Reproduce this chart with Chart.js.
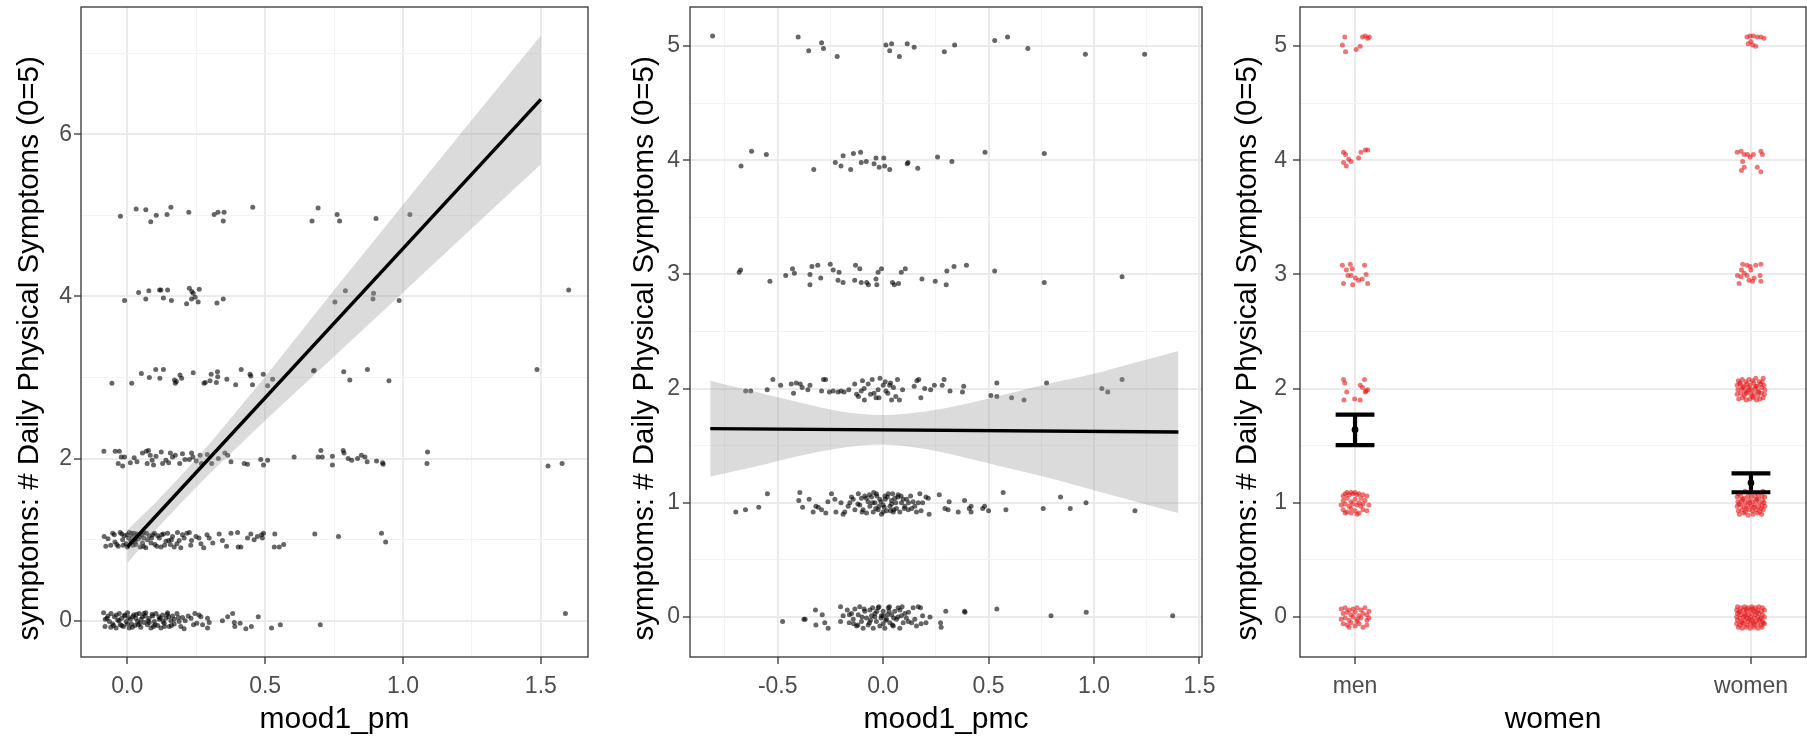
<!DOCTYPE html>
<html>
<head>
<meta charset="utf-8">
<script src="https://cdn.jsdelivr.net/npm/chart.js@4.4.0/dist/chart.umd.min.js"></script>
<style>
  html, body { margin: 0; padding: 0; background: #fff; overflow: hidden; }
  body { width: 1807px; height: 739px; position: relative; }
  canvas { position: absolute; top: 0; }
  #c1 { left: 0; }
  #c2 { left: 600px; }
  #c3 { left: 1210px; }
</style>
</head>
<body>
<canvas id="c1" width="600" height="739"></canvas>
<canvas id="c2" width="630" height="739"></canvas>
<canvas id="c3" width="600" height="739"></canvas>
<script>
// ---------- panel 1: symptoms vs mood1_pm (jittered) ----------
const p1Lvl5 = [[-0.025,4.99],[0.032,5.08],[0.067,5.07],[0.085,4.92],[0.105,5.00],[0.144,5.01],[0.158,5.10],[0.223,5.04],[0.315,5.01],[0.329,5.04],[0.351,5.04],[0.348,4.93],[0.455,5.10],[0.670,4.93],[0.692,5.09],[0.761,5.01],[0.770,4.93],[0.902,4.96],[1.025,5.01]];
const p1Lvl4 = [[-0.010,3.95],[0.041,4.05],[0.067,3.97],[0.078,4.07],[0.117,4.08],[0.122,4.08],[0.131,3.98],[0.146,4.08],[0.160,3.95],[0.215,3.91],[0.225,4.10],[0.234,4.06],[0.239,4.04],[0.233,3.97],[0.246,3.99],[0.257,3.93],[0.261,4.09],[0.325,3.92],[0.348,3.97],[0.753,3.93],[0.791,4.07],[0.893,4.04],[0.891,3.97],[0.986,3.95],[1.601,4.08]];
const p1Lvl3 = [[-0.056,2.93],[0.016,2.93],[0.051,3.05],[0.080,3.00],[0.103,3.10],[0.118,2.99],[0.131,3.10],[0.171,2.97],[0.174,2.93],[0.178,2.95],[0.191,3.03],[0.197,2.99],[0.239,3.06],[0.278,2.93],[0.283,2.94],[0.300,2.96],[0.304,3.04],[0.323,2.94],[0.327,3.07],[0.328,3.01],[0.361,2.98],[0.393,2.91],[0.413,3.10],[0.445,3.04],[0.448,3.02],[0.454,2.91],[0.493,3.04],[0.509,2.90],[0.527,2.98],[0.675,3.08],[0.678,3.09],[0.785,3.07],[0.807,2.97],[0.871,3.10],[0.949,2.96],[1.486,3.10]];
const p1Lvl2 = [[-0.085,2.09],[-0.044,2.09],[-0.029,2.09],[-0.033,1.94],[-0.022,2.02],[-0.017,1.91],[-0.010,2.02],[0.011,1.95],[0.025,2.01],[0.055,2.07],[0.069,2.09],[0.072,1.94],[0.077,2.10],[0.083,2.04],[0.090,1.98],[0.104,2.03],[0.123,2.08],[0.128,1.94],[0.140,1.98],[0.156,2.07],[0.164,2.02],[0.174,2.04],[0.190,1.94],[0.209,1.99],[0.225,1.99],[0.233,2.07],[0.238,2.02],[0.264,2.04],[0.269,1.94],[0.306,1.94],[0.330,2.00],[0.354,2.07],[0.364,2.04],[0.376,1.96],[0.424,1.94],[0.436,1.93],[0.484,1.99],[0.494,1.92],[0.509,1.98],[0.605,2.02],[0.692,2.02],[0.702,2.10],[0.707,2.02],[0.744,2.03],[0.744,1.92],[0.783,2.10],[0.786,2.07],[0.801,2.00],[0.814,1.98],[0.835,2.00],[0.849,2.04],[0.862,2.02],[0.870,1.96],[0.904,1.97],[0.926,1.95],[0.928,1.93],[1.089,2.08],[1.087,1.94],[1.526,1.91],[1.577,1.94],[0.035,1.96],[0.095,1.92],[0.150,1.95],[0.200,2.06],[0.250,1.97],[0.290,2.05]];
const p1Lvl1 = [[-0.084,1.04],[-0.078,0.92],[-0.053,1.08],[-0.047,1.06],[-0.038,0.94],[-0.033,0.92],[-0.026,1.09],[-0.017,1.00],[-0.011,1.05],[-0.005,0.95],[0.001,0.91],[0.007,1.09],[0.013,0.98],[0.019,1.04],[0.025,1.08],[0.031,0.94],[0.040,1.01],[0.047,0.91],[0.053,1.06],[0.061,1.09],[0.067,0.90],[0.073,1.00],[0.086,0.96],[0.092,1.06],[0.098,1.08],[0.107,0.92],[0.116,1.02],[0.122,0.91],[0.131,1.07],[0.140,0.98],[0.146,1.08],[0.156,0.94],[0.164,1.04],[0.170,0.91],[0.182,1.09],[0.188,0.99],[0.194,0.90],[0.206,1.02],[0.216,1.08],[0.225,1.09],[0.233,0.99],[0.249,1.04],[0.267,0.95],[0.277,0.90],[0.289,1.06],[0.297,1.02],[0.333,1.07],[0.345,0.99],[0.360,0.92],[0.376,1.08],[0.400,1.09],[0.402,0.91],[0.412,0.91],[0.436,1.02],[0.448,1.07],[0.460,1.00],[0.472,1.04],[0.487,1.06],[0.490,1.02],[0.494,1.08],[0.535,1.07],[0.533,0.91],[0.551,0.91],[0.567,0.94],[0.680,1.07],[0.766,1.04],[0.922,1.08],[0.937,0.97],[-0.060,0.93],[-0.020,1.07],[0.005,1.02],[0.020,0.93],[0.035,1.07],[0.055,0.96],[0.080,1.05],[0.100,0.94],[0.125,1.06],[0.150,0.99],[0.030,1.00],[0.060,1.02],
  [-0.070,1.01],[-0.045,0.97],[-0.015,0.93],[0.000,1.06],[0.015,1.08],[0.028,0.97],[0.045,1.04],[0.058,0.92],[0.070,1.08],[0.088,1.02],[0.110,1.05],[0.135,0.93],[0.160,1.00],[0.180,0.95],[0.200,1.06],[0.260,1.02],[0.310,0.96],[0.230,0.93]];
const p1Lvl0 = [[-0.086,0.10],[-0.081,-0.07],[-0.074,0.03],[-0.065,-0.01],[-0.059,0.09],[-0.053,-0.04],[-0.047,0.05],[-0.041,-0.09],[-0.035,0.01],[-0.029,0.09],[-0.026,-0.05],[-0.021,0.03],[-0.014,-0.07],[-0.009,0.06],[-0.004,-0.01],[0.001,0.10],[0.007,-0.09],[0.011,0.02],[0.015,-0.04],[0.023,0.07],[0.028,-0.06],[0.031,0.03],[0.037,-0.01],[0.043,0.09],[0.049,-0.08],[0.055,0.05],[0.061,-0.02],[0.067,0.10],[0.073,-0.05],[0.079,0.03],[0.086,-0.09],[0.092,0.06],[0.098,-0.01],[0.104,0.09],[0.110,-0.06],[0.116,0.02],[0.122,-0.09],[0.128,0.07],[0.134,-0.03],[0.140,0.03],[0.146,0.10],[0.152,-0.07],[0.158,0.00],[0.164,0.06],[0.170,-0.04],[0.180,0.09],[0.188,-0.01],[0.194,-0.07],[0.206,-0.10],[0.221,0.06],[0.231,0.03],[0.245,0.09],[0.252,-0.03],[0.267,0.05],[0.273,-0.05],[0.291,0.03],[0.291,-0.09],[0.297,-0.02],[0.345,0.00],[0.364,0.05],[0.382,0.09],[0.388,-0.02],[0.390,-0.07],[0.409,-0.03],[0.430,-0.10],[0.450,-0.07],[0.475,0.05],[0.523,-0.09],[0.555,-0.05],[0.700,-0.05],[1.589,0.09],[-0.070,0.06],[-0.050,-0.06],[-0.030,0.00],[-0.010,0.07],[0.000,-0.04],[0.020,0.05],[0.040,-0.05],[0.050,0.02],[0.065,0.06],[0.080,-0.02],[0.090,0.08],[0.100,-0.05],[0.120,0.03],[0.135,-0.07],[0.150,0.05],[0.170,0.02],[0.200,0.04],[0.240,-0.05],
  [-0.080,0.02],[-0.060,-0.08],[-0.040,0.07],[-0.020,-0.06],[0.005,0.04],[0.018,-0.08],[0.033,0.08],[0.045,-0.03],[0.060,0.09],[0.075,0.00],[0.095,-0.07],[0.115,0.05],[0.130,-0.01],[0.145,0.08],[0.160,-0.06],[0.185,0.04],[0.210,0.00],[0.260,0.07]];
const p1LineX = [0, 1.5];
const p1LineY = [0.91, 6.43];
const p1BandX = [0, 0.1, 0.2, 0.3, 0.5, 0.75, 1.0, 1.25, 1.5];
const p1BandHi = [1.12, 1.45, 1.81, 2.19, 3.01, 4.08, 5.13, 6.18, 7.22];
const p1BandLo = [0.71, 1.11, 1.47, 1.82, 2.47, 3.26, 4.05, 4.84, 5.63];
const p1XTicks = [0, 0.25, 0.5, 0.75, 1, 1.25, 1.5];
const p1XMajor = [0, 0.5, 1, 1.5];
const p1XLabels = ["0.0", "0.5", "1.0", "1.5"];
const p1YTicks = [0, 1, 2, 3, 4, 5, 6, 7];
const p1YMajor = [0, 2, 4, 6];
const p1YLabels = ["0", "2", "4", "6"];

// ---------- panel 2: symptoms vs mood1_pmc (jittered) ----------
const p2Lvl5 = [[-0.809,5.09],[-0.403,5.08],[-0.353,4.96],[-0.292,5.03],[-0.283,4.98],[-0.218,4.91],[0.013,5.01],[0.031,4.96],[0.040,5.02],[0.077,4.91],[0.114,5.02],[0.147,4.99],[0.290,4.95],[0.339,5.01],[0.529,5.05],[0.590,5.08],[0.686,4.98],[0.959,4.93],[1.240,4.93]];
const p2Lvl4 = [[-0.674,3.95],[-0.624,4.08],[-0.554,4.05],[-0.329,3.92],[-0.227,3.98],[-0.200,3.95],[-0.190,4.04],[-0.154,3.92],[-0.141,4.06],[-0.107,4.07],[-0.104,3.98],[-0.080,3.99],[-0.043,3.97],[-0.034,4.02],[-0.019,3.94],[0.003,4.02],[0.007,3.95],[0.031,3.92],[0.114,3.97],[0.118,3.98],[0.164,3.93],[0.258,4.03],[0.326,3.99],[0.483,4.07],[0.764,4.06]];
const p2Lvl3 = [[-0.683,3.02],[-0.676,3.04],[-0.537,2.94],[-0.462,2.99],[-0.430,3.05],[-0.421,3.01],[-0.347,3.00],[-0.338,3.07],[-0.347,2.91],[-0.310,3.08],[-0.296,2.97],[-0.251,3.09],[-0.237,3.04],[-0.214,2.95],[-0.209,3.02],[-0.190,2.93],[-0.135,2.95],[-0.131,3.08],[-0.111,3.05],[-0.104,2.93],[-0.078,2.93],[-0.070,2.91],[-0.034,2.96],[-0.030,2.91],[-0.024,3.02],[-0.008,3.05],[0.044,2.93],[0.053,2.91],[0.073,2.92],[0.086,3.02],[0.105,3.05],[0.184,2.96],[0.247,2.94],[0.299,2.91],[0.302,3.03],[0.336,3.07],[0.395,3.08],[0.529,3.03],[0.764,2.93],[1.133,2.98]];
const p2Lvl2 = [[-0.652,1.98],[-0.628,1.98],[-0.550,1.99],[-0.523,2.08],[-0.486,2.03],[-0.436,2.04],[-0.425,1.96],[-0.412,2.05],[-0.393,2.04],[-0.384,2.01],[-0.357,1.99],[-0.347,2.03],[-0.292,1.98],[-0.283,2.08],[-0.273,2.08],[-0.255,1.97],[-0.237,1.98],[-0.214,1.97],[-0.200,1.98],[-0.185,1.97],[-0.163,1.99],[-0.135,2.04],[-0.126,1.95],[-0.117,1.93],[-0.104,1.98],[-0.098,2.07],[-0.089,1.90],[-0.071,2.04],[-0.052,2.08],[-0.043,1.96],[-0.034,1.92],[-0.024,1.99],[-0.015,2.09],[0.000,2.03],[0.013,1.98],[0.022,1.96],[0.031,2.03],[0.040,1.90],[0.049,2.01],[0.068,2.08],[0.077,1.90],[0.092,1.99],[0.147,2.02],[0.160,2.07],[0.169,2.08],[0.179,1.92],[0.197,2.00],[0.225,1.99],[0.243,2.03],[0.280,2.03],[0.289,2.08],[0.317,1.98],[0.382,2.02],[0.376,1.97],[0.539,2.05],[0.511,1.94],[0.539,1.93],[0.609,1.92],[0.668,1.90],[0.775,2.05],[1.037,2.00],[1.065,1.97],[1.133,2.08],[-0.060,1.95],[0.010,2.06],[0.060,1.93],[-0.020,1.92],[0.035,2.05],[-0.090,2.00]];
const p2Lvl1 = [[-0.699,0.92],[-0.653,0.94],[-0.590,0.96],[-0.549,1.08],[-0.395,1.09],[-0.400,1.02],[-0.382,0.96],[-0.351,1.03],[-0.332,0.92],[-0.319,0.97],[-0.308,0.96],[-0.292,0.94],[-0.272,0.91],[-0.262,1.01],[-0.245,1.08],[-0.229,1.03],[-0.224,0.92],[-0.190,0.90],[-0.182,0.92],[-0.166,0.97],[-0.158,1.00],[-0.142,1.03],[-0.134,0.94],[-0.118,1.08],[-0.111,0.98],[-0.103,1.04],[-0.095,0.94],[-0.087,1.06],[-0.079,0.91],[-0.071,1.01],[-0.063,0.97],[-0.055,1.05],[-0.047,0.92],[-0.039,1.00],[-0.032,1.08],[-0.024,0.94],[-0.016,1.03],[-0.008,0.90],[0.000,0.98],[0.008,1.06],[0.016,0.93],[0.024,1.08],[0.032,0.97],[0.040,1.02],[0.048,0.92],[0.055,1.04],[0.063,0.95],[0.071,1.07],[0.079,0.92],[0.087,1.00],[0.095,1.03],[0.103,0.97],[0.111,1.03],[0.119,0.94],[0.135,0.95],[0.142,1.01],[0.158,0.92],[0.166,1.00],[0.174,1.08],[0.187,1.00],[0.203,1.05],[0.214,1.04],[0.218,0.90],[0.266,1.07],[0.293,0.95],[0.308,0.94],[0.313,1.01],[0.356,0.92],[0.386,1.02],[0.408,0.95],[0.417,0.97],[0.417,0.92],[0.472,0.95],[0.481,0.97],[0.500,0.93],[0.569,1.09],[0.582,0.94],[0.759,0.95],[0.841,1.05],[0.887,0.95],[0.962,1.00],[1.194,0.93],[-0.050,1.00],[-0.020,0.97],[0.010,1.03],[0.040,0.99],[0.070,1.05],[-0.080,1.04],[-0.120,0.99],[0.100,0.95],[0.130,1.06],[-0.030,1.06],[0.000,0.92],[0.050,0.94],
  [-0.150,1.05],[-0.100,0.92],[-0.065,1.07],[-0.035,0.95],[-0.010,1.01],[0.005,0.96],[0.020,1.05],[0.035,0.93],[0.060,1.00],[0.085,1.06],[0.120,1.00],[0.150,0.97],[-0.200,1.00],[0.180,0.93],[-0.045,1.09],[0.045,1.08]];
const p2Lvl0 = [[-0.477,-0.04],[-0.376,-0.02],[-0.370,-0.02],[-0.321,0.06],[-0.319,-0.07],[-0.289,0.02],[-0.277,-0.05],[-0.261,-0.10],[-0.202,0.09],[-0.202,-0.04],[-0.190,0.01],[-0.161,-0.05],[-0.150,0.03],[-0.142,-0.02],[-0.134,0.07],[-0.126,-0.08],[-0.118,0.02],[-0.111,0.09],[-0.103,-0.04],[-0.095,-0.10],[-0.087,0.05],[-0.079,-0.01],[-0.071,-0.07],[-0.063,0.06],[-0.055,0.01],[-0.047,-0.10],[-0.039,0.03],[-0.032,-0.04],[-0.024,0.08],[-0.016,-0.08],[-0.008,0.01],[0.000,0.05],[0.008,-0.10],[0.016,-0.02],[0.024,0.08],[0.032,-0.05],[0.040,0.02],[0.048,-0.08],[0.055,0.05],[0.063,-0.02],[0.071,0.08],[0.079,-0.10],[0.087,0.01],[0.095,-0.05],[0.103,0.03],[0.119,-0.04],[0.135,-0.05],[0.142,0.08],[0.158,-0.08],[0.166,0.09],[0.177,0.08],[0.187,0.01],[0.203,-0.05],[0.222,0.00],[0.272,-0.05],[0.275,-0.09],[0.297,0.05],[0.386,0.05],[0.388,0.04],[0.539,0.07],[0.796,0.01],[0.963,0.04],[1.373,0.01],[-0.100,0.00],[-0.060,-0.03],[-0.030,0.05],[0.000,-0.06],[0.020,0.02],[0.050,-0.01],[0.080,0.06],[-0.050,0.08],[0.110,-0.01],[-0.140,-0.06],[0.030,0.09],[-0.010,-0.01],
  [-0.160,0.02],[-0.120,-0.07],[-0.090,0.07],[-0.065,-0.05],[-0.040,0.00],[-0.020,0.09],[0.000,0.01],[0.012,-0.03],[0.028,0.05],[0.044,-0.07],[0.070,0.00],[0.090,0.09],[0.120,0.04],[0.150,-0.02],[0.180,-0.06],[-0.170,0.06]];
const p2LineX = [-0.82, 1.40];
const p2LineY = [1.65, 1.62];
const p2BandX = [-0.82, -0.6, -0.4, -0.2, 0, 0.2, 0.4, 0.6, 0.8, 1.0, 1.2, 1.4];
const p2BandHi = [2.07, 1.97, 1.88, 1.80, 1.77, 1.80, 1.87, 1.96, 2.05, 2.13, 2.23, 2.33];
const p2BandLo = [1.23, 1.32, 1.41, 1.48, 1.51, 1.47, 1.39, 1.30, 1.21, 1.11, 1.01, 0.91];
const p2XTicks = [-0.75, -0.5, -0.25, 0, 0.25, 0.5, 0.75, 1, 1.25, 1.5];
const p2XMajor = [-0.5, 0, 0.5, 1, 1.5];
const p2XLabels = ["-0.5", "0.0", "0.5", "1.0", "1.5"];
const p2YTicks = [0, 0.5, 1, 1.5, 2, 2.5, 3, 3.5, 4, 4.5, 5];
const p2YMajor = [0, 1, 2, 3, 4, 5];
const p2YLabels = ["0", "1", "2", "3", "4", "5"];

// ---------- panel 3: symptoms by women (men = 1, women = 2) ----------
const sexCats = ["men", "women"];
const sexPos = [1, 2];
const sexMean = [1.64, 1.175];
const sexLo = [1.505, 1.092];
const sexHi = [1.773, 1.257];
const menPts = [
  [0.974,5.08],[0.968,5.01],[0.976,4.95],[1.003,4.97],[1.013,5.00],[1.019,5.08],[1.026,5.09],[1.032,5.07],[1.036,5.08],
  [0.971,4.07],[0.976,4.05],[0.984,4.01],[0.971,3.98],[0.978,3.95],[1.009,4.02],[1.015,4.07],[1.026,4.09],[1.032,4.09],[0.990,3.99],
  [0.968,3.08],[0.978,3.04],[0.988,3.09],[0.993,3.05],[0.971,2.92],[0.990,2.99],[1.001,2.97],[1.009,2.95],[1.018,2.96],[1.024,3.08],[1.028,3.00],[1.032,2.92],[0.994,2.91],[0.982,2.99],
  [0.971,2.08],[0.974,2.05],[0.979,1.97],[0.972,1.90],[0.999,1.91],[1.013,1.90],[1.013,2.03],[1.024,2.08],[1.019,2.01],[1.028,1.98],[1.026,1.97],[1.032,1.99],
  [0.970,1.06],[0.975,1.08],[0.980,1.09],[0.985,1.07],[0.990,1.09],[0.995,1.08],[1.000,1.09],[1.005,1.07],[1.010,1.08],[1.020,1.07],[1.030,1.06],
  [0.970,1.02],[0.980,1.04],[0.990,1.01],[1.000,1.03],[1.010,1.00],[1.015,1.04],[1.025,1.02],
  [0.965,0.98],[0.975,0.99],[0.985,0.97],[0.995,0.99],[1.005,0.98],[1.015,0.97],[1.020,0.99],[1.035,0.98],
  [0.970,0.94],[0.980,0.92],[0.990,0.95],[1.000,0.93],[1.010,0.91],[1.020,0.94],[1.030,0.93],[0.975,0.91],[1.005,0.90],[0.990,0.91],
  [0.965,0.07],[0.975,0.08],[0.985,0.06],[0.995,0.07],[1.005,0.08],[1.015,0.06],[1.025,0.08],[1.035,0.05],
  [0.970,0.03],[0.980,0.04],[0.990,0.02],[1.000,0.04],[1.010,0.01],[1.020,0.03],[1.030,0.02],
  [0.965,-0.02],[0.975,-0.01],[0.985,-0.03],[0.995,0.00],[1.005,-0.02],[1.015,-0.01],[1.030,-0.03],[1.035,-0.01],
  [0.970,-0.06],[0.980,-0.07],[0.990,-0.05],[1.000,-0.08],[1.010,-0.06],[1.020,-0.09],[1.030,-0.07],[0.985,-0.09],[1.005,-0.04]
];
const womenPts = [
  [1.990,5.08],[1.998,5.09],[2.006,5.09],[2.016,5.08],[2.025,5.08],[2.033,5.07],[1.993,5.02],[2.004,5.01],[2.012,5.00],[2.000,5.04],
  [1.965,4.07],[1.975,4.08],[1.983,4.05],[1.991,4.05],[1.998,4.03],[2.006,4.05],[2.025,4.08],[2.029,4.05],[1.979,3.99],[1.983,3.94],[1.976,3.91],[2.016,3.94],[2.025,3.90],
  [1.979,3.09],[1.990,3.08],[2.000,3.04],[2.012,3.08],[2.025,3.09],[1.966,2.99],[1.975,2.98],[1.983,3.01],[1.990,2.99],[2.004,2.94],[2.008,2.97],[2.023,2.99],[2.025,2.94],[1.970,2.92],[1.995,2.95],[1.976,3.04],[1.998,3.07],
  [1.968,2.07],[1.978,2.08],[1.987,2.06],[1.995,2.08],[2.004,2.07],[2.012,2.09],[2.021,2.06],[2.031,2.09],
  [1.965,2.03],[1.973,2.04],[1.982,2.02],[1.990,2.04],[1.998,2.03],[2.007,2.05],[2.015,2.02],[2.024,2.04],[2.033,2.03],
  [1.967,1.99],[1.976,2.00],[1.984,1.98],[1.993,2.01],[2.001,1.99],[2.010,2.00],[2.018,1.98],[2.027,2.01],[2.035,1.99],
  [1.965,1.95],[1.974,1.96],[1.983,1.94],[1.991,1.97],[2.000,1.95],[2.008,1.96],[2.017,1.94],[2.026,1.96],[2.034,1.95],
  [1.969,1.91],[1.979,1.92],[1.988,1.90],[1.997,1.91],[2.006,1.92],[2.014,1.90],[2.023,1.91],[2.031,1.92],
  [1.980,2.01],[1.996,1.99],[2.012,2.02],[1.988,1.96],[2.004,1.93],[2.020,1.97],[1.972,2.05],[2.028,2.06],
  [1.968,1.08],[1.985,1.10],[2.000,1.09],[2.018,1.08],[2.030,1.10],
  [1.965,1.05],[1.974,1.06],[1.983,1.04],[1.992,1.06],[2.001,1.05],[2.010,1.06],[2.019,1.04],[2.028,1.06],[2.035,1.05],
  [1.967,1.01],[1.976,1.02],[1.985,1.00],[1.994,1.02],[2.003,1.01],[2.012,1.02],[2.021,1.00],[2.030,1.02],
  [1.965,0.97],[1.974,0.98],[1.983,0.96],[1.992,0.98],[2.001,0.97],[2.010,0.98],[2.019,0.96],[2.028,0.98],[2.035,0.97],
  [1.968,0.93],[1.977,0.94],[1.986,0.92],[1.995,0.94],[2.004,0.93],[2.013,0.94],[2.022,0.92],[2.031,0.94],
  [1.971,0.90],[1.982,0.91],[1.993,0.89],[2.005,0.90],[2.016,0.91],[2.027,0.90],
  [1.979,1.03],[1.997,1.00],[2.015,1.03],[1.988,0.95],[2.007,0.96],[2.025,0.95],[1.970,0.99],[2.033,1.00],
  [1.966,0.09],[1.975,0.08],[1.984,0.09],[1.993,0.08],[2.002,0.09],[2.011,0.08],[2.020,0.09],[2.029,0.08],
  [1.964,0.06],[1.972,0.05],[1.981,0.06],[1.990,0.05],[1.999,0.06],[2.008,0.05],[2.017,0.06],[2.026,0.05],[2.034,0.06],
  [1.966,0.03],[1.975,0.02],[1.984,0.03],[1.993,0.02],[2.002,0.03],[2.011,0.02],[2.020,0.03],[2.029,0.02],
  [1.964,0.00],[1.972,-0.01],[1.981,0.00],[1.990,-0.01],[1.999,0.00],[2.008,-0.01],[2.017,0.00],[2.026,-0.01],[2.034,0.00],
  [1.966,-0.03],[1.975,-0.04],[1.984,-0.03],[1.993,-0.04],[2.002,-0.03],[2.011,-0.04],[2.020,-0.03],[2.029,-0.04],
  [1.964,-0.06],[1.972,-0.07],[1.981,-0.06],[1.990,-0.07],[1.999,-0.06],[2.008,-0.07],[2.017,-0.06],[2.026,-0.07],[2.034,-0.06],
  [1.968,-0.09],[1.978,-0.10],[1.988,-0.09],[1.998,-0.10],[2.008,-0.09],[2.018,-0.10],[2.028,-0.09],
  [1.970,0.04],[1.986,0.01],[2.004,0.07],[2.022,-0.02],[1.978,-0.05],[1.996,-0.02],[2.014,0.04],[2.031,-0.05],[1.988,0.07],[2.006,-0.05]
];
const p3XTicks = [1, 1.5, 2];
const p3YTicks = p2YTicks;

// ---------- styling ----------
Chart.defaults.font.family = "'Liberation Sans', Arial, Helvetica, sans-serif";
const DOT = "rgba(0,0,0,0.6)";
const RED_DOT = "rgba(228,26,28,0.6)";
const BAND = "rgba(153,153,153,0.35)";
const INK = "#333333";
const CAP = 0.049; // half width of the error bar caps, in x units
const R = 2.5;     // point radius

const xy = (xs, ys) => xs.map((x, i) => ({ x, y: ys[i] }));
const pts = (arr) => arr.map(([x, y]) => ({ x, y }));

function errorBars() {
  const out = [];
  sexPos.forEach((c, i) => {
    out.push({ x: c - CAP, y: sexHi[i] }, { x: c + CAP, y: sexHi[i] }, { x: c, y: null });
    out.push({ x: c, y: sexHi[i] }, { x: c, y: sexLo[i] }, { x: c, y: null });
    out.push({ x: c - CAP, y: sexLo[i] }, { x: c + CAP, y: sexLo[i] }, { x: c, y: null });
  });
  return out;
}

// panel frame drawn on top, like ggplot's panel.border
const panelBorder = {
  id: "panelBorder",
  afterDraw(chart) {
    const { ctx, chartArea: a } = chart;
    ctx.save();
    ctx.strokeStyle = INK;
    ctx.lineWidth = 1.3;
    ctx.strokeRect(a.left, a.top, a.right - a.left, a.bottom - a.top);
    ctx.restore();
  },
};

function scaleCfg(o) {
  const near = (a, b) => Math.abs(a - b) < 1e-9;
  const isMajor = (c) => c.tick && o.major.some((m) => near(m, c.tick.value));
  return {
    type: "linear",
    min: o.min,
    max: o.max,
    afterBuildTicks: (s) => { s.ticks = o.ticks.map((v) => ({ value: v })); },
    afterFit: (s) => {
      if (o.horizontal) s.height = o.size; else s.width = o.size;
      s.paddingTop = 0; s.paddingBottom = 0; s.paddingLeft = 0; s.paddingRight = 0;
    },
    grid: {
      color: (c) => (isMajor(c) ? "#ebebeb" : "#f3f3f3"),
      lineWidth: (c) => (isMajor(c) ? 2 : 1.1),
      tickColor: (c) => (isMajor(c) ? INK : "rgba(0,0,0,0)"),
      tickLength: 7,
      tickWidth: 1.3,
    },
    border: { display: false },
    ticks: {
      autoSkip: false,
      maxRotation: 0,
      padding: o.tickPad,
      color: "#4d4d4d",
      font: { size: 23 },
      callback: (v) => {
        const i = o.major.findIndex((m) => near(m, v));
        return i < 0 ? "" : o.labels[i];
      },
    },
    title: { display: true, text: o.title, color: "#000", font: { size: o.titleSize || 30 }, padding: o.titlePad },
  };
}

function baseOptions(padRight, xScale, yScale) {
  return {
    responsive: false,
    animation: false,
    events: [],
    layout: { padding: { top: 7, right: padRight, left: 0, bottom: 0 } },
    plugins: { legend: { display: false }, tooltip: { enabled: false } },
    scales: { x: xScale, y: yScale },
  };
}

// trailing spaces nudge the rotated title a little lower, as in the original
const Y_TITLE = "symptoms: # Daily Physical Symptoms (0=5)    ";

// ---------- panel 1 ----------
new Chart(document.getElementById("c1"), {
  type: "scatter",
  data: {
    datasets: [
      { type: "line", data: xy(p1LineX, p1LineY), borderColor: "#000", borderWidth: 3.4, pointRadius: 0, order: 1 },
      { type: "line", data: xy(p1BandX, p1BandHi), borderColor: "rgba(0,0,0,0)", pointRadius: 0, fill: "+1", backgroundColor: BAND, order: 2 },
      { type: "line", data: xy(p1BandX, p1BandLo), borderColor: "rgba(0,0,0,0)", pointRadius: 0, fill: false, order: 2 },
      {
        data: pts([...p1Lvl0, ...p1Lvl1, ...p1Lvl2, ...p1Lvl3, ...p1Lvl4, ...p1Lvl5]),
        pointRadius: R, backgroundColor: DOT, borderColor: "rgba(0,0,0,0)", borderWidth: 0, order: 3,
      },
    ],
  },
  options: baseOptions(12,
    scaleCfg({ horizontal: true, size: 82, min: -0.168, max: 1.671, ticks: p1XTicks, major: p1XMajor, labels: p1XLabels,
      tickPad: 9, title: "mood1_pm", titlePad: { top: 0, bottom: 1 } }),
    scaleCfg({ size: 81, min: -0.447, max: 7.57, ticks: p1YTicks, major: p1YMajor, labels: p1YLabels,
      tickPad: 2, title: Y_TITLE, titleSize: 29.5, titlePad: { top: 12, bottom: 0 } })),
  plugins: [panelBorder],
});

// ---------- panel 2 ----------
new Chart(document.getElementById("c2"), {
  type: "scatter",
  data: {
    datasets: [
      { type: "line", data: xy(p2LineX, p2LineY), borderColor: "#000", borderWidth: 3.4, pointRadius: 0, order: 1 },
      { type: "line", data: xy(p2BandX, p2BandHi), borderColor: "rgba(0,0,0,0)", pointRadius: 0, tension: 0.35, fill: "+1", backgroundColor: BAND, order: 2 },
      { type: "line", data: xy(p2BandX, p2BandLo), borderColor: "rgba(0,0,0,0)", pointRadius: 0, tension: 0.35, fill: false, order: 2 },
      {
        data: pts([...p2Lvl0, ...p2Lvl1, ...p2Lvl2, ...p2Lvl3, ...p2Lvl4, ...p2Lvl5]),
        pointRadius: R, backgroundColor: DOT, borderColor: "rgba(0,0,0,0)", borderWidth: 0, order: 3,
      },
    ],
  },
  options: baseOptions(28,
    scaleCfg({ horizontal: true, size: 82, min: -0.916, max: 1.512, ticks: p2XTicks, major: p2XMajor, labels: p2XLabels,
      tickPad: 9, title: "mood1_pmc", titlePad: { top: 0, bottom: 1 } }),
    scaleCfg({ size: 90, min: -0.351, max: 5.343, ticks: p2YTicks, major: p2YMajor, labels: p2YLabels,
      tickPad: 3, title: Y_TITLE, titleSize: 29.5, titlePad: { top: 27, bottom: 0 } })),
  plugins: [panelBorder],
});

// ---------- panel 3 ----------
new Chart(document.getElementById("c3"), {
  type: "scatter",
  data: {
    datasets: [
      { data: xy(sexPos, sexMean), pointRadius: 3.4, backgroundColor: "#000", borderColor: "#000", borderWidth: 0, order: 0 },
      { type: "line", data: errorBars(), borderColor: "#000", borderWidth: 4.2, pointRadius: 0, spanGaps: false, fill: false, order: 1 },
      {
        data: pts([...menPts, ...womenPts]),
        pointRadius: R, backgroundColor: RED_DOT, borderColor: "rgba(0,0,0,0)", borderWidth: 0, order: 2,
      },
    ],
  },
  options: baseOptions(0,
    scaleCfg({ horizontal: true, size: 82, min: 0.861, max: 2.139, ticks: p3XTicks, major: sexPos, labels: sexCats,
      tickPad: 9, title: "women", titlePad: { top: 0, bottom: 1 } }),
    scaleCfg({ size: 90, min: -0.351, max: 5.343, ticks: p3YTicks, major: p2YMajor, labels: p2YLabels,
      tickPad: 6, title: Y_TITLE, titleSize: 29.5, titlePad: { top: 20, bottom: 0 } })),
  plugins: [panelBorder],
});
</script>
</body>
</html>
